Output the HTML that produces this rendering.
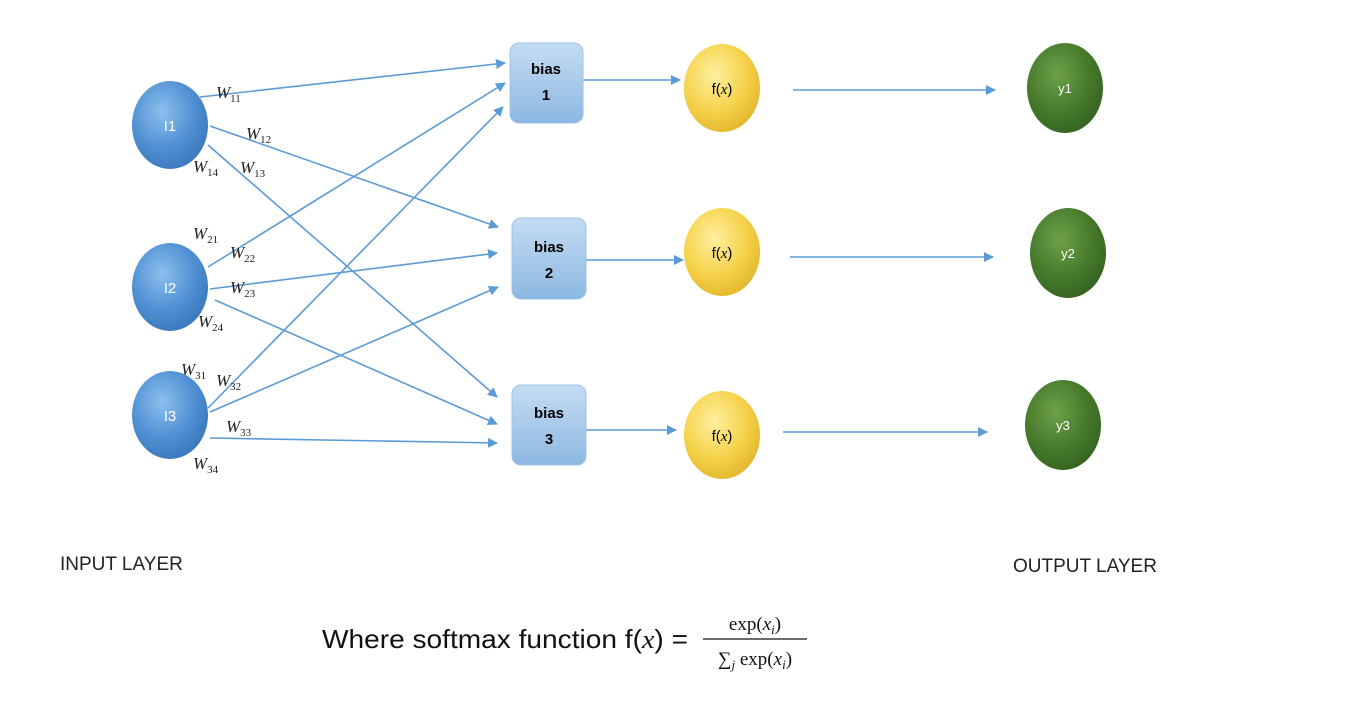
<!DOCTYPE html>
<html><head><meta charset="utf-8"><style>
html,body{margin:0;padding:0;background:#fff;}
svg{display:block}
text{font-family:"Liberation Sans",sans-serif}
.w{font-family:"Liberation Serif",serif;font-style:italic;font-size:17px;fill:#222}
.s{font-size:11px;font-style:normal}
.ser{font-family:"Liberation Serif",serif}
.it{font-family:"Liberation Serif",serif;font-style:italic}
</style></head><body>
<svg width="1367" height="703" viewBox="0 0 1367 703">
<defs>
<radialGradient id="gb" cx="40%" cy="35%" r="70%"><stop offset="0" stop-color="#8cc0ee"/><stop offset="0.6" stop-color="#4f8fd2"/><stop offset="1" stop-color="#3a76bb"/></radialGradient>
<radialGradient id="gy" cx="40%" cy="35%" r="70%"><stop offset="0" stop-color="#fff0a0"/><stop offset="0.6" stop-color="#f5d24a"/><stop offset="1" stop-color="#e2b52a"/></radialGradient>
<radialGradient id="gg" cx="40%" cy="35%" r="70%"><stop offset="0" stop-color="#6fa14a"/><stop offset="0.6" stop-color="#467a2b"/><stop offset="1" stop-color="#34621f"/></radialGradient>
<linearGradient id="gbox" x1="0" y1="0" x2="0" y2="1"><stop offset="0" stop-color="#c4dcf2"/><stop offset="1" stop-color="#8db8e2"/></linearGradient>
<marker id="ar" markerWidth="10" markerHeight="10" refX="9" refY="5" orient="auto" markerUnits="userSpaceOnUse"><path d="M0,0 L10,5 L0,10 z" fill="#5b9bd5"/></marker>
</defs>
<g stroke="#5b9bd5" stroke-width="1.6" fill="none">
<line x1="200" y1="97" x2="505" y2="63" marker-end="url(#ar)"/>
<line x1="210" y1="126" x2="498" y2="227" marker-end="url(#ar)"/>
<line x1="208" y1="145" x2="497" y2="397" marker-end="url(#ar)"/>
<line x1="208" y1="267" x2="505" y2="83" marker-end="url(#ar)"/>
<line x1="210" y1="289" x2="497" y2="253" marker-end="url(#ar)"/>
<line x1="215" y1="300" x2="497" y2="424" marker-end="url(#ar)"/>
<line x1="208" y1="408" x2="503" y2="107" marker-end="url(#ar)"/>
<line x1="210" y1="412" x2="498" y2="287" marker-end="url(#ar)"/>
<line x1="210" y1="438" x2="497" y2="443" marker-end="url(#ar)"/>
<line x1="583" y1="80" x2="680" y2="80" marker-end="url(#ar)"/>
<line x1="583" y1="260" x2="683" y2="260" marker-end="url(#ar)"/>
<line x1="583" y1="430" x2="676" y2="430" marker-end="url(#ar)"/>
<line x1="793" y1="90" x2="995" y2="90" marker-end="url(#ar)"/>
<line x1="790" y1="257" x2="993" y2="257" marker-end="url(#ar)"/>
<line x1="783" y1="432" x2="987" y2="432" marker-end="url(#ar)"/>
</g>
<g>
<ellipse cx="170" cy="125" rx="38" ry="44" fill="url(#gb)"/><text x="170" y="131" fill="#fff" font-size="15" text-anchor="middle">I1</text>
<ellipse cx="170" cy="287" rx="38" ry="44" fill="url(#gb)"/><text x="170" y="293" fill="#fff" font-size="15" text-anchor="middle">I2</text>
<ellipse cx="170" cy="415" rx="38" ry="44" fill="url(#gb)"/><text x="170" y="421" fill="#fff" font-size="15" text-anchor="middle">I3</text>
</g>
<g>
<rect x="510" y="43" width="73" height="80" rx="9" fill="url(#gbox)" stroke="#9cc3e8"/><text x="546" y="74" font-size="15" font-weight="bold" text-anchor="middle">bias</text><text x="546" y="100" font-size="15" font-weight="bold" text-anchor="middle">1</text>
<rect x="512" y="218" width="74" height="81" rx="9" fill="url(#gbox)" stroke="#9cc3e8"/><text x="549" y="252" font-size="15" font-weight="bold" text-anchor="middle">bias</text><text x="549" y="278" font-size="15" font-weight="bold" text-anchor="middle">2</text>
<rect x="512" y="385" width="74" height="80" rx="9" fill="url(#gbox)" stroke="#9cc3e8"/><text x="549" y="418" font-size="15" font-weight="bold" text-anchor="middle">bias</text><text x="549" y="444" font-size="15" font-weight="bold" text-anchor="middle">3</text>
</g>
<g>
<ellipse cx="722" cy="88" rx="38" ry="44" fill="url(#gy)"/><text x="722" y="94" font-size="15" text-anchor="middle">f(<tspan class="it">x</tspan>)</text>
<ellipse cx="722" cy="252" rx="38" ry="44" fill="url(#gy)"/><text x="722" y="258" font-size="15" text-anchor="middle">f(<tspan class="it">x</tspan>)</text>
<ellipse cx="722" cy="435" rx="38" ry="44" fill="url(#gy)"/><text x="722" y="441" font-size="15" text-anchor="middle">f(<tspan class="it">x</tspan>)</text>
</g>
<g>
<ellipse cx="1065" cy="88" rx="38" ry="45" fill="url(#gg)"/><text x="1065" y="93" fill="#fff" font-size="13" text-anchor="middle">y1</text>
<ellipse cx="1068" cy="253" rx="38" ry="45" fill="url(#gg)"/><text x="1068" y="258" fill="#fff" font-size="13" text-anchor="middle">y2</text>
<ellipse cx="1063" cy="425" rx="38" ry="45" fill="url(#gg)"/><text x="1063" y="430" fill="#fff" font-size="13" text-anchor="middle">y3</text>
</g>
<g>
<text class="w" x="216" y="98">W<tspan class="s" dy="4">11</tspan></text>
<text class="w" x="246" y="139">W<tspan class="s" dy="4">12</tspan></text>
<text class="w" x="240" y="173">W<tspan class="s" dy="4">13</tspan></text>
<text class="w" x="193" y="172">W<tspan class="s" dy="4">14</tspan></text>
<text class="w" x="193" y="239">W<tspan class="s" dy="4">21</tspan></text>
<text class="w" x="230" y="258">W<tspan class="s" dy="4">22</tspan></text>
<text class="w" x="230" y="293">W<tspan class="s" dy="4">23</tspan></text>
<text class="w" x="198" y="327">W<tspan class="s" dy="4">24</tspan></text>
<text class="w" x="181" y="375">W<tspan class="s" dy="4">31</tspan></text>
<text class="w" x="216" y="386">W<tspan class="s" dy="4">32</tspan></text>
<text class="w" x="226" y="432">W<tspan class="s" dy="4">33</tspan></text>
<text class="w" x="193" y="469">W<tspan class="s" dy="4">34</tspan></text>
</g>
<text x="60" y="570" font-size="19" fill="#222">INPUT LAYER</text>
<text x="1013" y="572" font-size="19" fill="#222">OUTPUT LAYER</text>
<g>
<text x="322" y="648" font-size="26" fill="#111" textLength="366" lengthAdjust="spacingAndGlyphs">Where softmax function f(<tspan class="it">x</tspan>) =</text>
<text class="ser" x="755" y="630" font-size="19" text-anchor="middle" fill="#111">exp(<tspan class="it">x</tspan><tspan class="it" font-size="13" dy="4">i</tspan><tspan dy="-4">)</tspan></text>
<line x1="703" y1="639" x2="807" y2="639" stroke="#111" stroke-width="1.3"/>
<text class="ser" x="755" y="665" font-size="19" text-anchor="middle" fill="#111">∑<tspan class="it" font-size="13" dy="4">j</tspan><tspan dy="-4"> exp(</tspan><tspan class="it">x</tspan><tspan class="it" font-size="13" dy="4">i</tspan><tspan dy="-4">)</tspan></text>
</g>
</svg>
</body></html>
